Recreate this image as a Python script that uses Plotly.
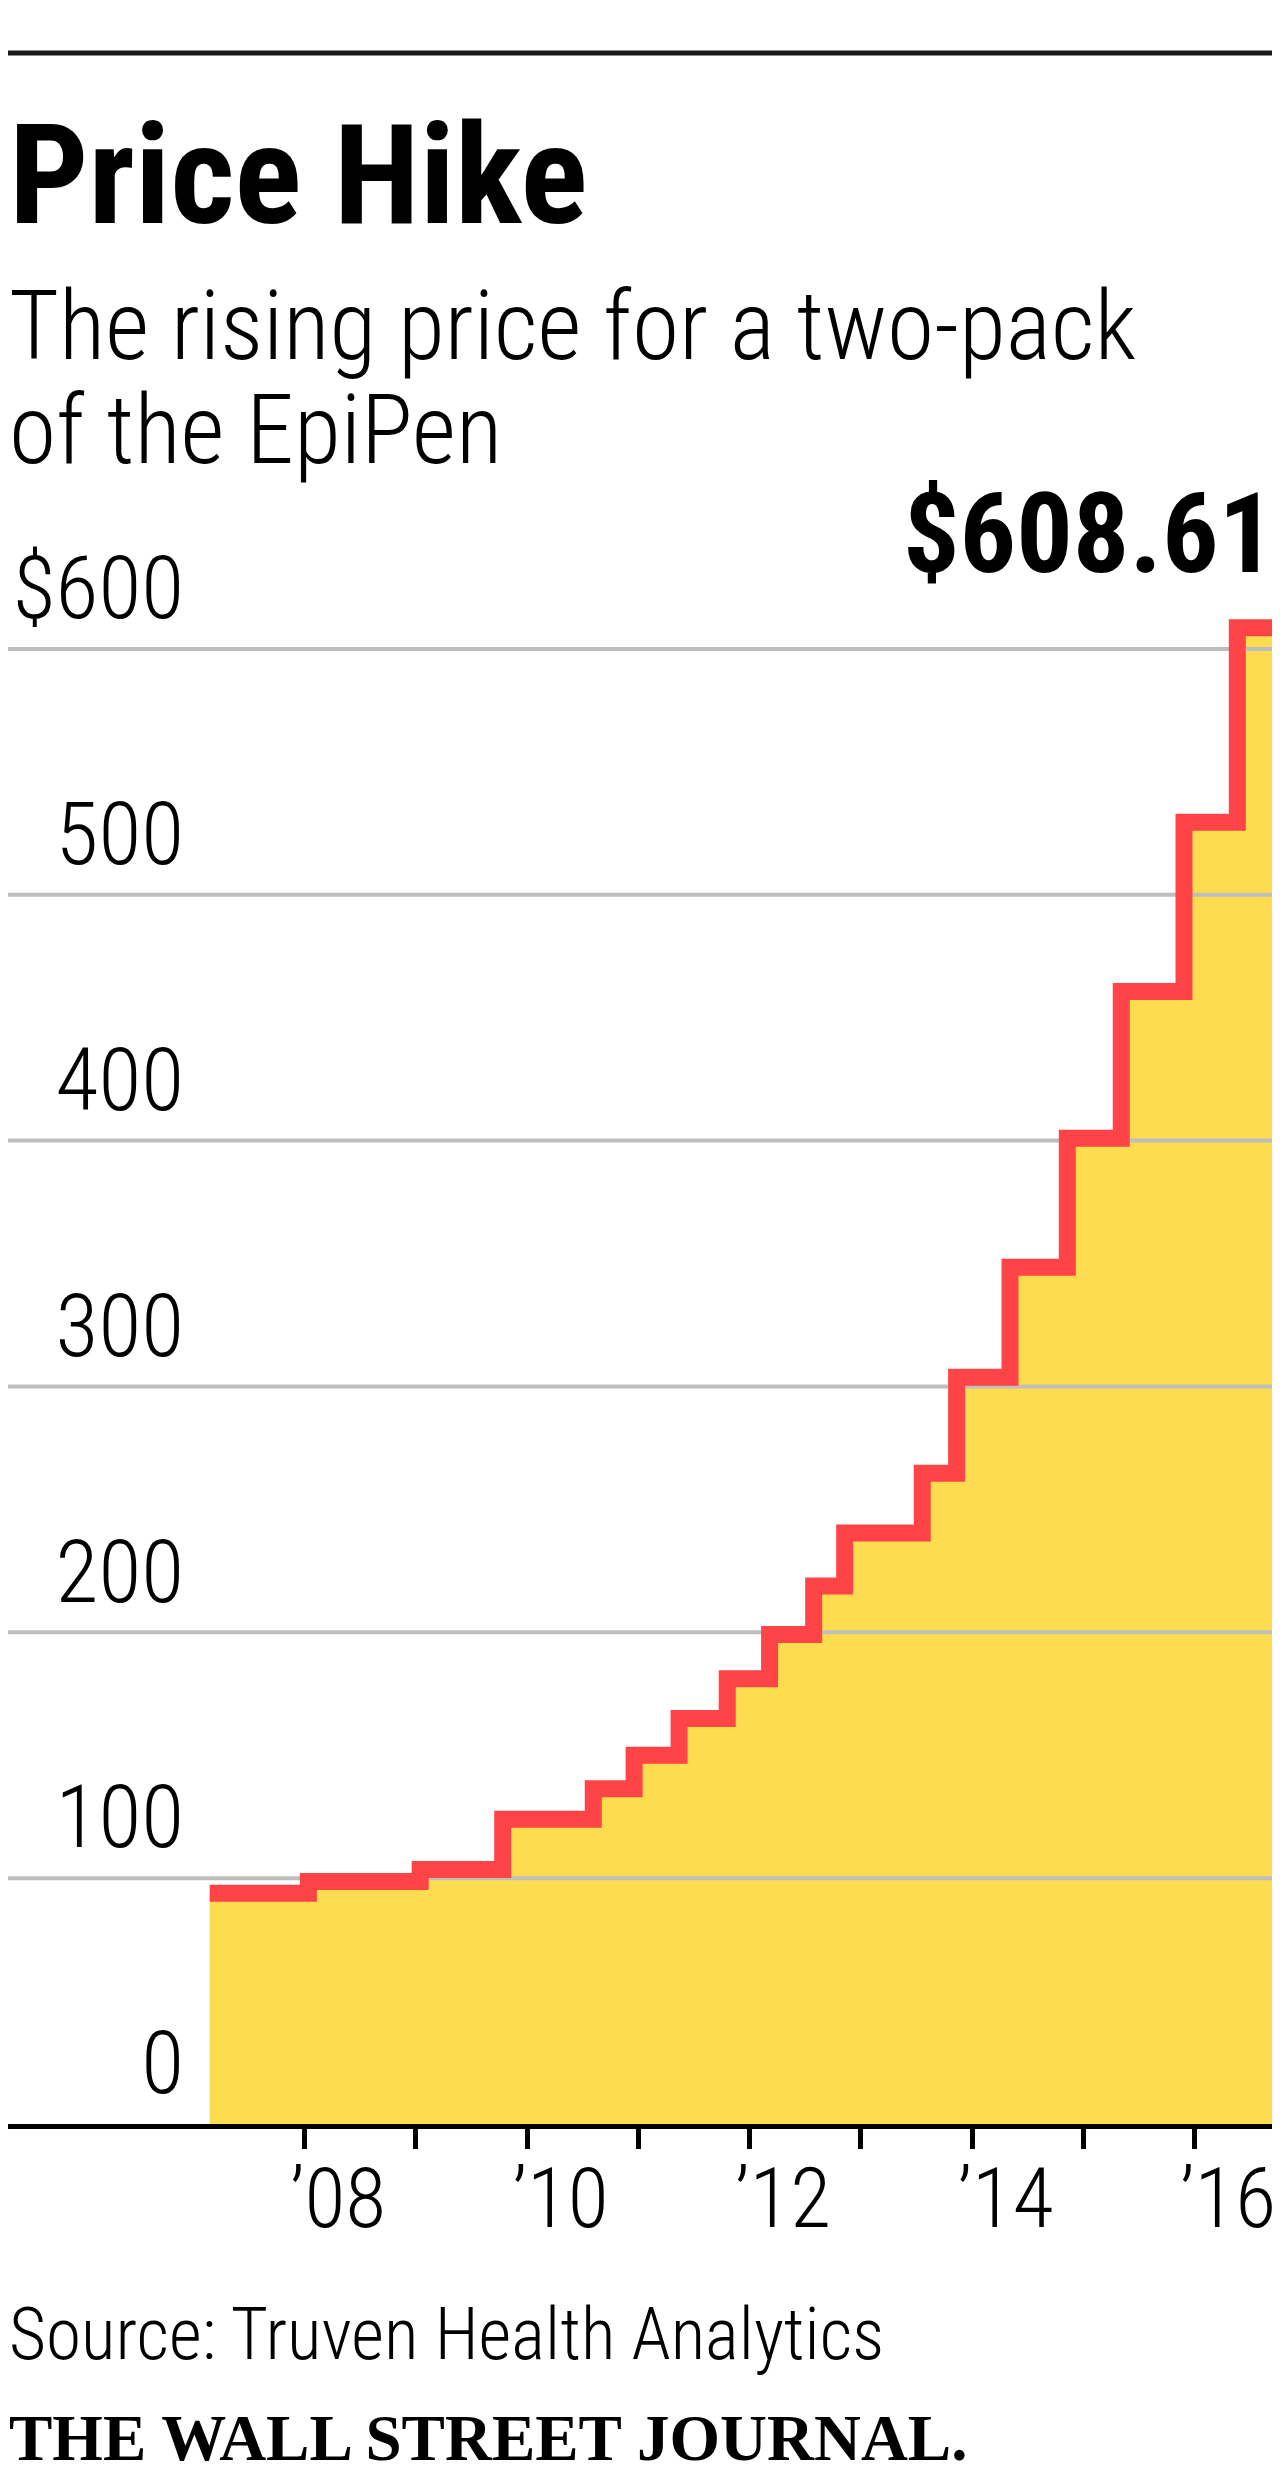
import plotly.graph_objects as go

# ---- data ----
step_start_year = [2007.146, 2008.033, 2009.038, 2009.780, 2010.594, 2010.961, 2011.365, 2011.798,
                   2012.179, 2012.575, 2012.854, 2013.551, 2013.860, 2014.340, 2014.855, 2015.340,
                   2015.904, 2016.383, 2016.731]
price = [93.88, 98.6, 103.5, 124.0, 136.4, 150.0, 164.9, 181.1,
         199.1, 218.8, 240.4, 264.7, 303.7, 348.5, 401.0, 460.7,
         529.5, 608.61, 608.61]

year_ticks = [2008, 2009, 2010, 2011, 2012, 2013, 2014, 2015, 2016]
year_label_pos = [2008.3, 2010.3, 2012.3, 2014.3, 2016.3]
year_labels = ["\u201908", "\u201910", "\u201912", "\u201914", "\u201916"]
y_ticks = [0, 100, 200, 300, 400, 500, 600]
y_labels = ["0", "100", "200", "300", "400", "500", "$600"]
grid_vals = [100, 200, 300, 400, 500, 600]

X_RANGE = [2005.333, 2016.731]
Y_RANGE = [0, 650]

W, H = 1280, 2482
M_L, M_R, M_T, M_B = 0, 12, 518, 366
plot_h = H - M_T - M_B
plot_w = W - M_L - M_R


def py(page_y):
    """page pixel y -> paper y"""
    return (H - M_B - page_y) / plot_h


RED = "#FE4447"
YELLOW = "#FDDC4F"
GRID = "#BEBEBE"
COND = "Roboto Condensed"

fig = go.Figure()

# yellow area
fig.add_trace(go.Scatter(x=step_start_year, y=price, mode="lines", line=dict(shape="hv", width=0, color=YELLOW),
                         fill="tozeroy", fillcolor=YELLOW, hoverinfo="skip", showlegend=False))

# gridlines drawn above the fill, below the red line
gx, gy = [], []
for v in grid_vals:
    gx += [X_RANGE[0], X_RANGE[1], None]
    gy += [v, v, None]
fig.add_trace(go.Scatter(x=gx, y=gy, mode="lines", line=dict(color=GRID, width=4), hoverinfo="skip",
                         showlegend=False))

# red step line
fig.add_trace(go.Scatter(x=step_start_year, y=price, mode="lines", line=dict(shape="hv", width=17, color=RED),
                         showlegend=False))

fig.update_layout(
    width=W, height=H,
    margin=dict(l=M_L, r=M_R, t=M_T, b=M_B, autoexpand=False),
    plot_bgcolor="white", paper_bgcolor="white",
    xaxis=dict(range=X_RANGE, showgrid=False, zeroline=False, showline=True, linecolor="black", linewidth=5,
               tickmode="array", tickvals=year_label_pos, ticktext=year_labels, ticks="",
               tickfont=dict(family=COND, size=84, color="black", weight=300),
               ticklabelstandoff=-3, ticklabeloverflow="allow",
               minor=dict(tickmode="array", tickvals=year_ticks, ticks="outside", ticklen=20, tickwidth=5,
                          tickcolor="black", showgrid=False),
               automargin=False, fixedrange=True),
    yaxis=dict(range=Y_RANGE, showgrid=False, zeroline=False, showline=False,
               tickmode="array", tickvals=y_ticks, ticktext=y_labels, ticks="",
               anchor="free", position=176 / plot_w, side="left",
               ticklabelposition="outside top",
               tickfont=dict(family=COND, size=88, color="black", weight=300),
               automargin=False, fixedrange=True),
)

# top rule
fig.add_shape(type="line", xref="paper", yref="paper", x0=0, x1=W / plot_w, y0=py(45), y1=py(45),
              line=dict(color="#1a1a1a", width=5))

# title / subtitle
fig.add_annotation(text="<b>Price Hike</b>", xref="paper", yref="paper", x=0, y=py(167),
                   xanchor="left", yanchor="middle", showarrow=False, borderpad=0,
                   font=dict(family=COND, size=140, color="black", weight=700))
fig.add_annotation(text="The rising price for a two-pack", xref="paper", yref="paper", x=0,
                   y=py(318), xanchor="left", yanchor="middle", showarrow=False, borderpad=0,
                   font=dict(family=COND, size=96, color="black", weight=300))
fig.add_annotation(text="of the EpiPen", xref="paper", yref="paper", x=0,
                   y=py(422), xanchor="left", yanchor="middle", showarrow=False, borderpad=0,
                   font=dict(family=COND, size=96, color="black", weight=300))

# last value label
fig.add_annotation(text="<b>$608.61</b>", xref="paper", yref="paper", x=1, y=py(525),
                   xanchor="right", yanchor="middle", showarrow=False, borderpad=0,
                   font=dict(family=COND, size=112, color="black", weight=700))

# source + logo
fig.add_annotation(text="Source: Truven Health Analytics", xref="paper", yref="paper", x=0,
                   y=py(2326), xanchor="left", yanchor="middle", showarrow=False, borderpad=0,
                   font=dict(family=COND, size=71.5, color="black", weight=300))
fig.add_annotation(text="<b>THE WALL STREET JOURNAL.</b>", xref="paper", yref="paper", x=0,
                   y=py(2430), xanchor="left", yanchor="middle", showarrow=False, borderpad=0,
                   font=dict(family="Liberation Serif", size=65, color="black", weight=700))

fig.write_html("out.html")
